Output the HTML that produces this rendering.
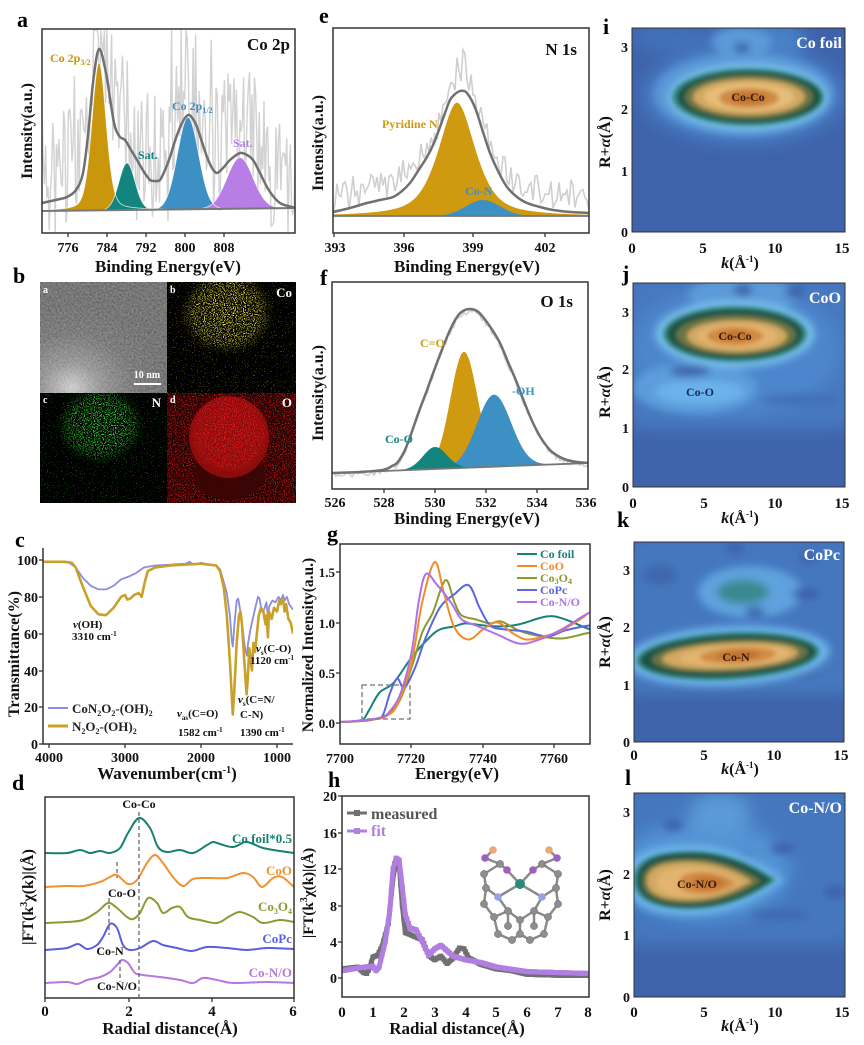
<!DOCTYPE html>
<html><head><meta charset="utf-8">
<style>
html,body{margin:0;padding:0;background:#fff;}
svg{display:block;font-family:"Liberation Serif",serif;font-weight:bold;}
</style></head>
<body>
<svg id="s" xmlns="http://www.w3.org/2000/svg" width="864" height="1045" viewBox="0 0 864 1045">
<defs>
<clipPath id="ca"><rect x="42" y="29" width="253" height="204"/></clipPath>
<clipPath id="ce"><rect x="333" y="28" width="256" height="205"/></clipPath>
<clipPath id="cf"><rect x="332" y="282" width="256" height="207"/></clipPath>
<clipPath id="cc"><rect x="43" y="545" width="250" height="199"/></clipPath>
<clipPath id="cd"><rect x="45" y="797" width="249" height="201"/></clipPath>
<clipPath id="cg"><rect x="340" y="544" width="250" height="200"/></clipPath>
<clipPath id="ch"><rect x="342" y="796" width="247" height="201"/></clipPath>
<clipPath id="ci"><rect x="632" y="28" width="213" height="204"/></clipPath>
<clipPath id="cj"><rect x="633" y="283" width="212" height="204"/></clipPath>
<clipPath id="ck"><rect x="634" y="542" width="210" height="200"/></clipPath>
<clipPath id="cl"><rect x="634" y="793" width="211" height="204"/></clipPath>
<clipPath id="b1"><rect x="40" y="282" width="127" height="111"/></clipPath>
<clipPath id="b2"><rect x="167" y="282" width="129" height="111"/></clipPath>
<clipPath id="b3"><rect x="40" y="393" width="127" height="110"/></clipPath>
<clipPath id="b4"><rect x="167" y="393" width="129" height="110"/></clipPath>
<filter id="bl2" x="-50%" y="-50%" width="200%" height="200%"><feGaussianBlur stdDeviation="2"/></filter>
<filter id="bl4" x="-50%" y="-50%" width="200%" height="200%"><feGaussianBlur stdDeviation="4"/></filter>
<filter id="bl8" x="-50%" y="-50%" width="200%" height="200%"><feGaussianBlur stdDeviation="8"/></filter>
<filter id="speckD" x="0" y="0" width="100%" height="100%">
 <feTurbulence type="fractalNoise" baseFrequency="0.9" numOctaves="1" seed="4" result="n"/>
 <feColorMatrix in="n" type="matrix" values="0 0 0 0 0 0 0 0 0 0 0 0 0 0 0 10 0 0 0 -5.2" result="m"/>
 <feComposite in="SourceGraphic" in2="m" operator="in"/>
</filter>
<filter id="speckS" x="0" y="0" width="100%" height="100%">
 <feTurbulence type="fractalNoise" baseFrequency="0.9" numOctaves="1" seed="11" result="n"/>
 <feColorMatrix in="n" type="matrix" values="0 0 0 0 0 0 0 0 0 0 0 0 0 0 0 14 0 0 0 -9.3" result="m"/>
 <feComposite in="SourceGraphic" in2="m" operator="in"/>
</filter>
<filter id="grain" x="0" y="0" width="100%" height="100%">
 <feTurbulence type="fractalNoise" baseFrequency="0.5" numOctaves="2" seed="7" result="n"/>
 <feColorMatrix in="n" type="matrix" values="1 0 0 0 0 1 0 0 0 0 1 0 0 0 0 0 0 0 0 0.25" result="g"/>
 <feComposite in="g" in2="SourceGraphic" operator="atop"/>
</filter>
<radialGradient id="tem" cx="0.25" cy="0.95" r="0.75"><stop offset="0" stop-color="#d4d4d4"/><stop offset="0.3" stop-color="#8e8e8e"/><stop offset="0.65" stop-color="#5e5e5e"/><stop offset="1" stop-color="#505050"/></radialGradient>
<radialGradient id="yel" cx="0.5" cy="0.5" r="0.5"><stop offset="0" stop-color="#f0e840"/><stop offset="0.7" stop-color="#d8d030" stop-opacity="0.9"/><stop offset="1" stop-color="#a0a020" stop-opacity="0"/></radialGradient>
<radialGradient id="grn" cx="0.5" cy="0.5" r="0.5"><stop offset="0" stop-color="#40e040"/><stop offset="0.7" stop-color="#30c030" stop-opacity="0.9"/><stop offset="1" stop-color="#20a020" stop-opacity="0"/></radialGradient>
<radialGradient id="red" cx="0.5" cy="0.45" r="0.5"><stop offset="0" stop-color="#ee2020"/><stop offset="0.85" stop-color="#d81818"/><stop offset="1" stop-color="#a01010" stop-opacity="0.3"/></radialGradient>
<path id="tear" d="M-63,0 C-63,-25 -30,-28 0,-27 C30,-25 55,-12 72,0 C55,12 30,25 0,27 C-35,29 -63,22 -63,0 Z"/>
</defs>

<!-- ============ PANEL A ============ -->
<g id="pa" clip-path="url(#ca)"></g>
<rect x="42" y="29" width="253" height="204" fill="none" stroke="#333" stroke-width="1.5"/>
<g stroke="#333" stroke-width="1.3"><line x1="68" y1="233" x2="68" y2="237"/><line x1="107" y1="233" x2="107" y2="237"/><line x1="146" y1="233" x2="146" y2="237"/><line x1="185" y1="233" x2="185" y2="237"/><line x1="224" y1="233" x2="224" y2="237"/></g>
<text x="17" y="27" font-size="22">a</text>
<text x="290" y="50" font-size="17" text-anchor="end" fill="#111">Co 2p</text>
<text x="50" y="62" font-size="12" fill="#c9960c">Co 2p<tspan font-size="8" dy="3">3/2</tspan></text>
<text x="138" y="159" font-size="12" fill="#13857e">Sat.</text>
<text x="172" y="110" font-size="12" fill="#3d90c4">Co 2p<tspan font-size="8" dy="3">1/2</tspan></text>
<text x="233" y="147" font-size="12" fill="#b77ee6">Sat.</text>
<g font-size="14" text-anchor="middle" fill="#111"><text x="68" y="252">776</text><text x="107" y="252">784</text><text x="146" y="252">792</text><text x="185" y="252">800</text><text x="224" y="252">808</text></g>
<text x="168" y="272" font-size="17" text-anchor="middle" fill="#111">Binding Energy(eV)</text>
<text transform="translate(32,131) rotate(-90)" font-size="16" text-anchor="middle" fill="#111">Intensity(a.u.)</text>

<!-- ============ PANEL E ============ -->
<g id="pe" clip-path="url(#ce)"></g>
<rect x="333" y="28" width="256" height="205" fill="none" stroke="#333" stroke-width="1.5"/>
<g stroke="#333" stroke-width="1.3"><line x1="334" y1="233" x2="334" y2="237"/><line x1="404" y1="233" x2="404" y2="237"/><line x1="473" y1="233" x2="473" y2="237"/><line x1="545" y1="233" x2="545" y2="237"/></g>
<text x="319" y="23" font-size="22">e</text>
<text x="577" y="55" font-size="17" text-anchor="end" fill="#111">N 1s</text>
<text x="382" y="128" font-size="12" fill="#cf9a10">Pyridine N</text>
<text x="465" y="195" font-size="12" fill="#3d90c4">Co-N</text>
<g font-size="14" text-anchor="middle" fill="#111"><text x="335" y="252">393</text><text x="404" y="252">396</text><text x="473" y="252">399</text><text x="545" y="252">402</text></g>
<text x="467" y="272" font-size="17" text-anchor="middle" fill="#111">Binding Energy(eV)</text>
<text transform="translate(323,143) rotate(-90)" font-size="16" text-anchor="middle" fill="#111">Intensity(a.u.)</text>

<!-- ============ PANEL F ============ -->
<g id="pf" clip-path="url(#cf)"></g>
<rect x="332" y="282" width="256" height="207" fill="none" stroke="#333" stroke-width="1.5"/>
<g stroke="#333" stroke-width="1.3"><line x1="384" y1="489" x2="384" y2="493"/><line x1="435" y1="489" x2="435" y2="493"/><line x1="486" y1="489" x2="486" y2="493"/><line x1="537" y1="489" x2="537" y2="493"/></g>
<text x="320" y="285" font-size="22">f</text>
<text x="573" y="307" font-size="17" text-anchor="end" fill="#111">O 1s</text>
<text x="420" y="347" font-size="12" fill="#cf9a10">C=O</text>
<text x="512" y="395" font-size="12" fill="#3d90c4">-OH</text>
<text x="385" y="443" font-size="12" fill="#13857e">Co-O</text>
<g font-size="14" text-anchor="middle" fill="#111"><text x="335" y="507">526</text><text x="384" y="507">528</text><text x="435" y="507">530</text><text x="486" y="507">532</text><text x="537" y="507">534</text><text x="586" y="507">536</text></g>
<text x="467" y="524" font-size="17" text-anchor="middle" fill="#111">Binding Energy(eV)</text>
<text transform="translate(323,393) rotate(-90)" font-size="16" text-anchor="middle" fill="#111">Intensity(a.u.)</text>

<!-- ============ PANEL B ============ -->
<text x="13" y="283" font-size="22">b</text>
<g clip-path="url(#b1)">
 <rect x="40" y="282" width="127" height="111" fill="url(#tem)"/>
 <rect x="40" y="282" width="127" height="111" fill="url(#tem)" filter="url(#grain)"/>
</g>
<g clip-path="url(#b2)">
 <rect x="167" y="282" width="129" height="111" fill="#000"/>
 <rect x="167" y="282" width="129" height="111" fill="#8a8a1c" filter="url(#speckS)"/>
 <ellipse cx="227" cy="313" rx="48" ry="42" fill="url(#yel)" filter="url(#speckD)"/>
</g>
<g clip-path="url(#b3)">
 <rect x="40" y="393" width="127" height="110" fill="#000"/>
 <rect x="40" y="393" width="127" height="110" fill="#1e8a1e" filter="url(#speckS)"/>
 <ellipse cx="100" cy="425" rx="44" ry="40" fill="url(#grn)" filter="url(#speckD)"/>
</g>
<g clip-path="url(#b4)">
 <rect x="167" y="393" width="129" height="110" fill="#200202"/>
 <rect x="167" y="393" width="129" height="110" fill="#b01212" filter="url(#speckD)"/>
 <ellipse cx="229" cy="474" rx="36" ry="26" fill="#3a0505" opacity="0.85"/>
 <ellipse cx="229" cy="437" rx="40" ry="41" fill="#8a0c0c"/>
 <ellipse cx="229" cy="437" rx="40" ry="41" fill="url(#red)" filter="url(#speckD)"/>
</g>
<g font-size="10" fill="#fff"><text x="43" y="293">a</text><text x="170" y="293">b</text><text x="43" y="403">c</text><text x="170" y="403">d</text></g>
<g font-size="13" fill="#fff" text-anchor="end"><text x="292" y="297">Co</text><text x="161" y="407">N</text><text x="292" y="407">O</text></g>
<text x="147" y="378" font-size="10" fill="#fff" text-anchor="middle">10 nm</text>
<rect x="134" y="383" width="27" height="2" fill="#fff"/>

<!-- ============ PANEL C ============ -->
<g id="pc" clip-path="url(#cc)"></g>
<g stroke="#333" stroke-width="1.5" fill="none"><path d="M43,548 L43,744 L293,744"/></g>
<g stroke="#333" stroke-width="1.3"><line x1="39" y1="560" x2="43" y2="560"/><line x1="39" y1="597" x2="43" y2="597"/><line x1="39" y1="634" x2="43" y2="634"/><line x1="39" y1="671" x2="43" y2="671"/><line x1="39" y1="707" x2="43" y2="707"/><line x1="39" y1="744" x2="43" y2="744"/>
<line x1="49" y1="744" x2="49" y2="748"/><line x1="125" y1="744" x2="125" y2="748"/><line x1="201" y1="744" x2="201" y2="748"/><line x1="277" y1="744" x2="277" y2="748"/></g>
<text x="15" y="547" font-size="22">c</text>
<g font-size="14" text-anchor="end" fill="#111"><text x="38" y="565">100</text><text x="38" y="602">80</text><text x="38" y="639">60</text><text x="38" y="676">40</text><text x="38" y="712">20</text><text x="38" y="749">0</text></g>
<g font-size="14" text-anchor="middle" fill="#111"><text x="49" y="762">4000</text><text x="125" y="762">3000</text><text x="201" y="762">2000</text><text x="277" y="762">1000</text></g>
<text x="167" y="779" font-size="17" text-anchor="middle" fill="#111">Wavenumber(cm<tspan font-size="10" dy="-6">-1</tspan><tspan dy="6">)</tspan></text>
<text transform="translate(19,654) rotate(-90)" font-size="16" text-anchor="middle" fill="#111">Transmittance(%)</text>
<g font-size="11" fill="#111">
 <text x="73" y="628"><tspan font-style="italic">v</tspan>(OH)</text>
 <text x="72" y="640">3310 cm<tspan font-size="7" dy="-4">-1</tspan></text>
 <text x="177" y="717"><tspan font-style="italic">v</tspan><tspan font-size="7" dy="3">as</tspan><tspan dy="-3">(C=O)</tspan></text>
 <text x="178" y="736">1582 cm<tspan font-size="7" dy="-4">-1</tspan></text>
 <text x="238" y="703"><tspan font-style="italic">v</tspan><tspan font-size="7" dy="3">s</tspan><tspan dy="-3">(C=N/</tspan></text>
 <text x="240" y="718">C-N)</text>
 <text x="240" y="736">1390 cm<tspan font-size="7" dy="-4">-1</tspan></text>
 <text x="256" y="652"><tspan font-style="italic">v</tspan><tspan font-size="7" dy="3">s</tspan><tspan dy="-3">(C-O)</tspan></text>
 <text x="250" y="664">1120 cm<tspan font-size="7" dy="-4">-1</tspan></text>
</g>
<line x1="48" y1="708" x2="68" y2="708" stroke="#8c8ce0" stroke-width="2"/>
<line x1="48" y1="726" x2="68" y2="726" stroke="#c9a12a" stroke-width="3"/>
<g font-size="13" fill="#222">
 <text x="72" y="713">CoN<tspan font-size="8" dy="3">2</tspan><tspan dy="-3">O</tspan><tspan font-size="8" dy="3">2</tspan><tspan dy="-3">-(OH)</tspan><tspan font-size="8" dy="3">2</tspan></text>
 <text x="72" y="731">N<tspan font-size="8" dy="3">2</tspan><tspan dy="-3">O</tspan><tspan font-size="8" dy="3">2</tspan><tspan dy="-3">-(OH)</tspan><tspan font-size="8" dy="3">2</tspan></text>
</g>

<!-- ============ PANEL D ============ -->
<g id="pd" clip-path="url(#cd)"></g>
<rect x="45" y="797" width="249" height="201" fill="none" stroke="#333" stroke-width="1.5"/>
<g stroke="#333" stroke-width="1.3"><line x1="129" y1="998" x2="129" y2="1002"/><line x1="212" y1="998" x2="212" y2="1002"/><line x1="45" y1="998" x2="45" y2="1002"/><line x1="294" y1="998" x2="294" y2="1002"/></g>
<g stroke="#666" stroke-width="1.3" stroke-dasharray="4,3"><line x1="139" y1="812" x2="139" y2="998"/><line x1="117" y1="862" x2="117" y2="878"/><line x1="109" y1="898" x2="109" y2="935"/><line x1="120" y1="960" x2="120" y2="982"/></g>
<text x="12" y="790" font-size="22">d</text>
<g font-size="12" fill="#111" text-anchor="middle"><text x="139" y="808">Co-Co</text><text x="122" y="897">Co-O</text><text x="110" y="955">Co-N</text><text x="117" y="990">Co-N/O</text></g>
<g font-size="13" text-anchor="end">
 <text x="292" y="843" fill="#18806f">Co foil*0.5</text>
 <text x="292" y="875" fill="#f0922e">CoO</text>
 <text x="292" y="911" fill="#8c9a32">Co<tspan font-size="8" dy="3">3</tspan><tspan dy="-3">O</tspan><tspan font-size="8" dy="3">4</tspan></text>
 <text x="292" y="943" fill="#5a5ee0">CoPc</text>
 <text x="292" y="977" fill="#b876e0">Co-N/O</text>
</g>
<g font-size="15" text-anchor="middle" fill="#111"><text x="45" y="1016">0</text><text x="129" y="1016">2</text><text x="212" y="1016">4</text><text x="293" y="1016">6</text></g>
<text x="170" y="1034" font-size="17" text-anchor="middle" fill="#111">Radial distance(Å)</text>
<text transform="translate(33,897) rotate(-90)" font-size="16" text-anchor="middle" fill="#111">|FT(k<tspan font-size="10" dy="-6">3</tspan><tspan dy="6">χ(k)|(Å)</tspan></text>

<!-- ============ PANEL G ============ -->
<g id="pg" clip-path="url(#cg)"></g>
<rect x="340" y="544" width="250" height="200" fill="none" stroke="#333" stroke-width="1.5"/>
<g stroke="#333" stroke-width="1.3"><line x1="336" y1="723" x2="340" y2="723"/><line x1="336" y1="673" x2="340" y2="673"/><line x1="336" y1="623" x2="340" y2="623"/><line x1="336" y1="572" x2="340" y2="572"/>
<line x1="411" y1="744" x2="411" y2="748"/><line x1="483" y1="744" x2="483" y2="748"/><line x1="554" y1="744" x2="554" y2="748"/></g>
<rect x="362" y="685" width="48" height="34" fill="none" stroke="#888" stroke-width="1.5" stroke-dasharray="5,3"/>
<text x="327" y="541" font-size="22">g</text>
<g font-size="13" text-anchor="end" fill="#111"><text x="335" y="728">0.0</text><text x="335" y="678">0.5</text><text x="335" y="628">1.0</text><text x="335" y="577">1.5</text></g>
<g font-size="14" text-anchor="middle" fill="#111"><text x="340" y="763">7700</text><text x="411" y="763">7720</text><text x="483" y="763">7740</text><text x="554" y="763">7760</text></g>
<text x="457" y="779" font-size="17" text-anchor="middle" fill="#111">Energy(eV)</text>
<text transform="translate(313,645) rotate(-90)" font-size="15.5" text-anchor="middle" fill="#111">Normalized Intensity(a.u.)</text>
<g stroke-width="2">
 <line x1="517" y1="554" x2="537" y2="554" stroke="#19807a"/>
 <line x1="517" y1="566" x2="537" y2="566" stroke="#f28c28"/>
 <line x1="517" y1="578" x2="537" y2="578" stroke="#8a9b2c"/>
 <line x1="517" y1="590" x2="537" y2="590" stroke="#5a68e0"/>
 <line x1="517" y1="602" x2="537" y2="602" stroke="#b070e8"/>
</g>
<g font-size="12">
 <text x="540" y="558" fill="#19807a">Co foil</text>
 <text x="540" y="570" fill="#f28c28">CoO</text>
 <text x="540" y="582" fill="#8a9b2c">Co<tspan font-size="8" dy="2">3</tspan><tspan dy="-2">O</tspan><tspan font-size="8" dy="2">4</tspan></text>
 <text x="540" y="594" fill="#5a68e0">CoPc</text>
 <text x="540" y="606" fill="#b070e8">Co-N/O</text>
</g>

<!-- ============ PANEL H ============ -->
<g id="ph" clip-path="url(#ch)"></g>
<rect x="342" y="796" width="247" height="201" fill="none" stroke="#333" stroke-width="1.5"/>
<g stroke="#333" stroke-width="1.3"><line x1="338" y1="796" x2="342" y2="796"/><line x1="338" y1="833" x2="342" y2="833"/><line x1="338" y1="869" x2="342" y2="869"/><line x1="338" y1="906" x2="342" y2="906"/><line x1="338" y1="942" x2="342" y2="942"/><line x1="338" y1="978" x2="342" y2="978"/></g>
<text x="328" y="787" font-size="22">h</text>
<g font-size="14" text-anchor="end" fill="#111"><text x="337" y="801">20</text><text x="337" y="838">16</text><text x="337" y="874">12</text><text x="337" y="911">8</text><text x="337" y="947">4</text><text x="337" y="983">0</text></g>
<g font-size="15" text-anchor="middle" fill="#111"><text x="342" y="1017">0</text><text x="373" y="1017">1</text><text x="404" y="1017">2</text><text x="435" y="1017">3</text><text x="466" y="1017">4</text><text x="496" y="1017">5</text><text x="527" y="1017">6</text><text x="558" y="1017">7</text><text x="588" y="1017">8</text></g>
<text x="457" y="1034" font-size="17" text-anchor="middle" fill="#111">Radial distance(Å)</text>
<text transform="translate(313,893) rotate(-90)" font-size="15" text-anchor="middle" fill="#111">|FT(k<tspan font-size="10" dy="-6">3</tspan><tspan dy="6">χ(k)|(Å)</tspan></text>
<line x1="347" y1="813" x2="367" y2="813" stroke="#707070" stroke-width="3"/><rect x="354" y="810" width="6" height="6" fill="#707070"/>
<line x1="347" y1="831" x2="367" y2="831" stroke="#b07fe0" stroke-width="3"/><rect x="354" y="828" width="6" height="6" fill="#b07fe0"/>
<text x="371" y="819" font-size="16" fill="#555">measured</text>
<text x="371" y="836" font-size="16" fill="#b07fe0">fit</text>
<g id="mol"></g>

<!-- ============ PANEL I ============ -->
<g clip-path="url(#ci)">
 <rect x="632" y="28" width="213" height="204" fill="#3e63ab"/>
 <g filter="url(#bl8)">
  <ellipse cx="744" cy="95" rx="102" ry="50" fill="#467ac2"/>
  <ellipse cx="758" cy="40" rx="48" ry="22" fill="#4a80c6"/>
  <ellipse cx="670" cy="38" rx="38" ry="16" fill="#4370ba"/>
 </g>
 <g filter="url(#bl4)">
  <ellipse cx="744" cy="94" rx="90" ry="42" fill="#5a98d8"/>
  <ellipse cx="742" cy="42" rx="30" ry="14" fill="#5b9ad8"/>
  <ellipse cx="742" cy="48" rx="8" ry="5" fill="#3b62a8"/>
  <ellipse cx="748" cy="97" rx="80" ry="34" fill="#76bdea"/>
 </g>
 <g filter="url(#bl2)">
  <ellipse cx="748" cy="97" rx="76" ry="29" fill="#3a8a88"/>
  <ellipse cx="749" cy="97" rx="72" ry="26" fill="#1f5245"/>
  <ellipse cx="749" cy="97" rx="64" ry="22" fill="#6a7545"/>
  <ellipse cx="749" cy="97" rx="56" ry="18" fill="#d2a862"/>
  <ellipse cx="749" cy="97" rx="45" ry="14" fill="#e6bd78"/>
  <ellipse cx="749" cy="98" rx="30" ry="10" fill="#d08a42"/>
  <ellipse cx="749" cy="98" rx="18" ry="6" fill="#c27530"/>
 </g>
</g>
<rect x="632" y="28" width="213" height="204" fill="none" stroke="#333" stroke-width="1"/>
<text x="748" y="101" font-size="12" text-anchor="middle" fill="#3a1a08">Co-Co</text>
<text x="842" y="48" font-size="16" text-anchor="end" fill="#fff">Co foil</text>
<text x="603" y="34" font-size="22">i</text>
<g font-size="14" text-anchor="end" fill="#111"><text x="628" y="237">0</text><text x="628" y="176">1</text><text x="628" y="114">2</text><text x="628" y="52">3</text></g>
<g font-size="15" text-anchor="middle" fill="#111"><text x="632" y="253">0</text><text x="703" y="253">5</text><text x="775" y="253">10</text><text x="842" y="253">15</text></g>
<text x="740" y="268" font-size="16" text-anchor="middle" fill="#111"><tspan font-style="italic">k</tspan>(Å<tspan font-size="9" dy="-6">-1</tspan><tspan dy="6">)</tspan></text>
<text transform="translate(610,142) rotate(-90)" font-size="16" text-anchor="middle" fill="#111">R+<tspan font-style="italic">α</tspan>(Å)</text>

<!-- ============ PANEL J ============ -->
<g clip-path="url(#cj)">
 <rect x="633" y="283" width="212" height="204" fill="#3e63ab"/>
 <g filter="url(#bl8)">
  <rect x="625" y="275" width="230" height="155" rx="20" fill="#4678c0"/>
  <ellipse cx="735" cy="350" rx="105" ry="65" fill="#4d86cc"/>
 </g>
 <g filter="url(#bl4)">
  <ellipse cx="695" cy="388" rx="62" ry="26" fill="#5c9cdc"/>
  <ellipse cx="700" cy="392" rx="45" ry="12" fill="#6cb2ea"/>
  <ellipse cx="690" cy="371" rx="20" ry="6" fill="#3d66ac"/>
  <ellipse cx="743" cy="295" rx="55" ry="18" fill="#5c9ad8"/>
  <ellipse cx="743" cy="290" rx="9" ry="6" fill="#3d64aa"/>
  <ellipse cx="795" cy="292" rx="10" ry="6" fill="#3d64aa"/>
  <ellipse cx="800" cy="400" rx="40" ry="6" fill="#4270b6"/>
  <ellipse cx="735" cy="334" rx="80" ry="34" fill="#74bcea"/>
 </g>
 <g filter="url(#bl2)">
  <ellipse cx="735" cy="334" rx="72" ry="28" fill="#3a8a88"/>
  <ellipse cx="735" cy="334" rx="68" ry="25" fill="#1f5245"/>
  <ellipse cx="736" cy="335" rx="60" ry="20" fill="#6a7545"/>
  <ellipse cx="737" cy="336" rx="50" ry="16" fill="#d2a862"/>
  <ellipse cx="737" cy="336" rx="40" ry="12" fill="#e2b470"/>
  <ellipse cx="735" cy="336" rx="28" ry="9" fill="#d08a42"/>
  <ellipse cx="735" cy="336" rx="16" ry="5" fill="#c27530"/>
 </g>
</g>
<rect x="633" y="283" width="212" height="204" fill="none" stroke="#333" stroke-width="1"/>
<text x="735" y="340" font-size="12" text-anchor="middle" fill="#3a1a08">Co-Co</text>
<text x="700" y="396" font-size="12" text-anchor="middle" fill="#1a2a60">Co-O</text>
<text x="841" y="303" font-size="16" text-anchor="end" fill="#fff">CoO</text>
<text x="622" y="281" font-size="22">j</text>
<g font-size="14" text-anchor="end" fill="#111"><text x="629" y="492">0</text><text x="629" y="433">1</text><text x="629" y="374">2</text><text x="629" y="317">3</text></g>
<g font-size="15" text-anchor="middle" fill="#111"><text x="633" y="508">0</text><text x="704" y="508">5</text><text x="775" y="508">10</text><text x="842" y="508">15</text></g>
<text x="740" y="523" font-size="16" text-anchor="middle" fill="#111"><tspan font-style="italic">k</tspan>(Å<tspan font-size="9" dy="-6">-1</tspan><tspan dy="6">)</tspan></text>
<text transform="translate(610,392) rotate(-90)" font-size="16" text-anchor="middle" fill="#111">R+<tspan font-style="italic">α</tspan>(Å)</text>

<!-- ============ PANEL K ============ -->
<g clip-path="url(#ck)">
 <rect x="634" y="542" width="210" height="200" fill="#3e63ab"/>
 <g filter="url(#bl8)">
  <rect x="625" y="535" width="230" height="155" rx="10" fill="#4577bf"/>
  <rect x="630" y="684" width="220" height="8" fill="#4a80c6"/>
 </g>
 <g filter="url(#bl4)">
  <ellipse cx="750" cy="592" rx="52" ry="26" fill="#5ea2de"/>
  <ellipse cx="743" cy="592" rx="26" ry="12" fill="#3a8a90"/>
  <ellipse cx="755" cy="612" rx="10" ry="5" fill="#3d64aa"/>
  <ellipse cx="806" cy="594" rx="14" ry="6" fill="#3d64aa"/>
  <ellipse cx="735" cy="548" rx="9" ry="6" fill="#3d64aa"/>
  <ellipse cx="808" cy="558" rx="9" ry="6" fill="#3d64aa"/>
  <ellipse cx="660" cy="575" rx="18" ry="10" fill="#3f68ae"/>
  <ellipse cx="790" cy="674" rx="30" ry="4" fill="#3f68ae"/>
  <ellipse cx="728" cy="656" rx="102" ry="30" fill="#6cb4ea" transform="rotate(-3 728 656)"/>
 </g>
 <g filter="url(#bl2)" transform="rotate(-3 728 656)">
  <ellipse cx="728" cy="656" rx="92" ry="24" fill="#3a8a88"/>
  <ellipse cx="728" cy="656" rx="88" ry="21" fill="#1f5245"/>
  <ellipse cx="730" cy="656" rx="78" ry="16" fill="#6a7545"/>
  <ellipse cx="730" cy="656" rx="68" ry="13" fill="#d2a862"/>
  <ellipse cx="735" cy="656" rx="55" ry="10" fill="#e2b470"/>
  <ellipse cx="738" cy="656" rx="38" ry="8" fill="#d08a42"/>
  <ellipse cx="738" cy="656" rx="22" ry="5" fill="#c27530"/>
 </g>
</g>
<rect x="634" y="542" width="210" height="200" fill="none" stroke="#333" stroke-width="1"/>
<text x="736" y="661" font-size="12" text-anchor="middle" fill="#3a1a08">Co-N</text>
<text x="840" y="560" font-size="16" text-anchor="end" fill="#fff">CoPc</text>
<text x="617" y="527" font-size="22">k</text>
<g font-size="14" text-anchor="end" fill="#111"><text x="630" y="747">0</text><text x="630" y="690">1</text><text x="630" y="632">2</text><text x="630" y="575">3</text></g>
<g font-size="15" text-anchor="middle" fill="#111"><text x="634" y="760">0</text><text x="704" y="760">5</text><text x="774" y="760">10</text><text x="841" y="760">15</text></g>
<text x="740" y="774" font-size="16" text-anchor="middle" fill="#111"><tspan font-style="italic">k</tspan>(Å<tspan font-size="9" dy="-6">-1</tspan><tspan dy="6">)</tspan></text>
<text transform="translate(610,642) rotate(-90)" font-size="16" text-anchor="middle" fill="#111">R+<tspan font-style="italic">α</tspan>(Å)</text>

<!-- ============ PANEL L ============ -->
<g clip-path="url(#cl)">
 <rect x="634" y="793" width="211" height="204" fill="#3e63ab"/>
 <g filter="url(#bl8)">
  <rect x="625" y="785" width="230" height="160" rx="10" fill="#4577bf"/>
  <ellipse cx="705" cy="870" rx="85" ry="50" fill="#5392d4"/>
  <ellipse cx="720" cy="815" rx="30" ry="22" fill="#5a9ad8"/>
 </g>
 <g filter="url(#bl4)">
  <ellipse cx="673" cy="825" rx="10" ry="6" fill="#3d64aa"/>
  <ellipse cx="742" cy="858" rx="10" ry="5" fill="#3d64aa"/>
  <ellipse cx="783" cy="848" rx="12" ry="6" fill="#3d64aa"/>
  <ellipse cx="835" cy="892" rx="12" ry="6" fill="#3d64aa"/>
  <ellipse cx="780" cy="915" rx="30" ry="5" fill="#3f68ae"/>
  <use href="#tear" transform="translate(700,880) scale(1.18,1.3)" fill="#6cb4ea"/>
 </g>
 <g filter="url(#bl2)">
  <use href="#tear" transform="translate(700,880) scale(1.06,1.06)" fill="#3a8a88"/>
  <use href="#tear" transform="translate(700,880) scale(1,1)" fill="#1f5245"/>
  <use href="#tear" transform="translate(698,881) scale(0.88,0.82)" fill="#6a7545"/>
  <use href="#tear" transform="translate(696,881) scale(0.78,0.7)" fill="#d2a862"/>
  <use href="#tear" transform="translate(696,882) scale(0.62,0.55)" fill="#e2b470"/>
  <use href="#tear" transform="translate(706,883) scale(0.42,0.4)" fill="#d08a42"/>
  <use href="#tear" transform="translate(708,883) scale(0.25,0.22)" fill="#c27530"/>
 </g>
</g>
<rect x="634" y="793" width="211" height="204" fill="none" stroke="#333" stroke-width="1"/>
<text x="697" y="888" font-size="12" text-anchor="middle" fill="#3a1a08">Co-N/O</text>
<text x="842" y="813" font-size="16" text-anchor="end" fill="#fff">Co-N/O</text>
<text x="625" y="785" font-size="22">l</text>
<g font-size="14" text-anchor="end" fill="#111"><text x="630" y="1002">0</text><text x="630" y="940">1</text><text x="630" y="879">2</text><text x="630" y="817">3</text></g>
<g font-size="15" text-anchor="middle" fill="#111"><text x="634" y="1017">0</text><text x="704" y="1017">5</text><text x="775" y="1017">10</text><text x="842" y="1017">15</text></g>
<text x="740" y="1031" font-size="16" text-anchor="middle" fill="#111"><tspan font-style="italic">k</tspan>(Å<tspan font-size="9" dy="-6">-1</tspan><tspan dy="6">)</tspan></text>
<text transform="translate(610,895) rotate(-90)" font-size="16" text-anchor="middle" fill="#111">R+<tspan font-style="italic">α</tspan>(Å)</text>
</svg>

<script>
(function(){
const NS='http://www.w3.org/2000/svg';
function el(p,tag,a){const e=document.createElementNS(NS,tag);for(const k in a)e.setAttribute(k,a[k]);p.appendChild(e);return e;}
function f1(v){return v.toFixed(1);}
function smooth(p){let d='M'+f1(p[0][0])+','+f1(p[0][1]);for(let i=0;i<p.length-1;i++){const p0=p[Math.max(i-1,0)],a=p[i],b=p[i+1],p3=p[Math.min(i+2,p.length-1)];const c1=[a[0]+(b[0]-p0[0])/6,a[1]+(b[1]-p0[1])/6];const c2=[b[0]-(p3[0]-a[0])/6,b[1]-(p3[1]-a[1])/6];d+=' C'+f1(c1[0])+','+f1(c1[1])+' '+f1(c2[0])+','+f1(c2[1])+' '+f1(b[0])+','+f1(b[1]);}return d;}
function poly(p){return 'M'+p.map(q=>f1(q[0])+','+f1(q[1])).join(' L');}
function interp(p,x){for(let i=0;i<p.length-1;i++){if(x>=p[i][0]&&x<=p[i+1][0]){const t=(x-p[i][0])/(p[i+1][0]-p[i][0]);return p[i][1]+t*(p[i+1][1]-p[i][1]);}}return x<p[0][0]?p[0][1]:p[p.length-1][1];}
let seed=12345;function rnd(){seed=(seed*16807)%2147483647;return (seed-1)/2147483646;}
const G=(x,c,s)=>Math.exp(-0.5*((x-c)/s)*((x-c)/s));
const L=(x,c,w)=>1/(1+((x-c)/w)*((x-c)/w));
function peak(x0,x1,base,f){let top=[],xs=[];for(let x=x0;x<=x1+0.01;x+=1){if(f(x)>0.4)xs.push(x);}if(!xs.length)return '';const a=xs[0],b=xs[xs.length-1];for(let x=a;x<=b+0.01;x+=1)top.push([x,base(x)-f(x)]);let d=poly(top);for(let x=b;x>=a-0.01;x-=1)d+=' L'+f1(x)+','+f1(base(x));return d+'Z';}
function topline(x0,x1,base,f){let t=[];for(let x=x0;x<=x1;x+=1){if(f(x)>0.6)t.push([x,base(x)-f(x)]);}return t.length?poly(t):'';}

/* ---- panel a ---- */
const pa=document.getElementById('pa');
const envA=[[42,203],[60,199],[67,197],[76,190],[83,173],[88,135],[93,83],[99,49],[106,73],[111,105],[115,127],[120,137],[125,140],[131,150],[137,160],[144,172],[150,180],[155,181],[160,180],[165,170],[170,157],[176,138],[182,123],[188,115],[193,119],[197,127],[202,142],[207,157],[212,168],[217,173],[223,168],[230,160],[240,153],[247,155],[253,160],[260,173],[267,187],[273,196],[280,203],[288,206],[296,208]];
let nz=[];seed=777;
for(let x=42;x<=296;x+=1.2){let b=interp(envA,x);let y=b-25+(rnd()-0.5)*130;if(rnd()<0.12)y-=70*rnd();if(rnd()<0.08)y+=60*rnd();y=Math.max(30,Math.min(233,y));nz.push([x,y]);}
el(pa,'path',{d:poly(nz),fill:'none',stroke:'#d2d2d2','stroke-width':1.4});
const baseA=x=>211-(x-43)*3/251;
const pk=[[x=>148*(0.75*G(x,99,7)+0.25*L(x,99,9)),'#c9960c'],[x=>47*G(x,127,8),'#13857e'],[x=>92*G(x,188,10.5),'#3d90c4'],[x=>51*G(x,240,13),'#b77ee6']];
pk.forEach(p=>{el(pa,'path',{d:peak(42,296,baseA,p[0]),fill:p[1]});});
pk.forEach(p=>{el(pa,'path',{d:topline(42,296,baseA,p[0]),fill:'none',stroke:'#fff','stroke-width':0.8,opacity:0.8});});
el(pa,'path',{d:'M42,211 L296,208',stroke:'#777','stroke-width':2,fill:'none'});
el(pa,'path',{d:smooth(envA),fill:'none',stroke:'#707070','stroke-width':2.5});

/* ---- panel e ---- */
const pe=document.getElementById('pe');
const envE=[[333,212],[350,208],[367,203],[380,200],[393,197],[402,191],[410,183],[418,171],[427,157],[434,143],[440,127],[445,113],[450,100],[455,94],[460,91],[464,91],[467,93],[472,101],[477,113],[483,132],[490,153],[498,171],[507,187],[517,197],[527,203],[540,207],[553,210],[570,212],[590,213]];
nz=[];seed=4242;
for(let x=333;x<=590;x+=2){let b=interp(envE,x);let amp=(x<430||x>500)?1:0.6;let y=b-rnd()*30*amp+(rnd()-0.5)*8;if(x>450&&x<475&&rnd()<0.3)y-=rnd()*35;nz.push([x,Math.min(224,y)]);}
el(pe,'path',{d:poly(nz),fill:'none',stroke:'#cfcfcf','stroke-width':1.6});
const baseE=x=>216;
const gE=x=>114*(0.6*L(x,457,22)+0.4*G(x,457,19));
const bE=x=>16*G(x,483,17);
el(pe,'path',{d:peak(333,590,baseE,gE),fill:'#cf9a10'});
el(pe,'path',{d:topline(333,590,baseE,gE),fill:'none',stroke:'#fff','stroke-width':1.2});
el(pe,'path',{d:peak(333,590,baseE,bE),fill:'#3d90c4'});
el(pe,'path',{d:'M333,216 L590,216',stroke:'#777','stroke-width':1.8});
el(pe,'path',{d:smooth(envE),fill:'none',stroke:'#707070','stroke-width':2.5});

/* ---- panel f ---- */
const pf=document.getElementById('pf');
const envF=[[332,473],[360,472],[383,470],[392,466],[397,463],[404,452],[410,437],[418,414],[427,390],[435,368],[443,347],[450,330],[457,317],[463,311],[470,309],[477,311],[483,317],[491,328],[500,343],[508,362],[517,383],[525,404],[533,423],[541,438],[550,450],[558,456],[567,460],[577,462],[589,463]];
nz=[];seed=99;
for(let x=332;x<=589;x+=2){nz.push([x,interp(envF,x)+(rnd()-0.5)*5+2]);}
el(pf,'path',{d:poly(nz),fill:'none',stroke:'#cfcfcf','stroke-width':1.6});
const baseF=x=>473-(x-332)*10/256;
const gF=x=>116*G(x,464,13.5), bF=x=>72*G(x,494,17), tF=x=>22*G(x,435,12);
el(pf,'path',{d:peak(332,589,baseF,gF),fill:'#cf9a10'});
el(pf,'path',{d:peak(332,589,baseF,bF),fill:'#3d90c4'});
el(pf,'path',{d:peak(332,589,baseF,tF),fill:'#13857e'});
el(pf,'path',{d:'M332,473 L589,463',stroke:'#777','stroke-width':1.8});
el(pf,'path',{d:smooth(envF),fill:'none',stroke:'#707070','stroke-width':2.5});

/* ---- panel c ---- */
const pc=document.getElementById('pc');
const cx=w=>49+(4000-w)*0.076, cy=t=>744-t*1.84;
const gold=[[4079,99],[3800,99],[3700,98.5],[3650,96],[3550,85],[3450,75],[3350,70.5],[3250,70],[3150,74],[3050,80],[3000,81],[2970,78.5],[2930,79],[2880,81],[2820,82],[2780,80],[2740,88],[2700,94],[2600,96],[2400,97],[2200,97.5],[2000,98],[1900,97.5],[1800,97],[1750,94],[1700,85],[1660,70],[1620,45],[1582,16],[1560,30],[1530,55],[1500,70],[1480,72],[1460,65],[1430,45],[1400,27],[1385,35],[1365,52],[1345,45],[1330,40],[1310,55],[1290,50],[1270,58],[1240,70],[1210,74],[1180,72],[1150,65],[1135,70],[1120,58],[1105,72],[1070,68],[1040,74],[1000,72],[970,78],[950,76],[920,79],[900,72],[880,76],[850,68],[820,66],[789,60]];
const purp=[[4079,99],[3750,99],[3650,96],[3550,90],[3450,86],[3350,84],[3250,84],[3150,86],[3050,89.5],[2950,91],[2850,93],[2750,96],[2600,97],[2400,97.5],[2200,98],[2150,99],[2100,97.5],[2000,98.5],[1900,97.5],[1800,97],[1750,95],[1700,88],[1660,82],[1620,70],[1595,56],[1582,53],[1560,65],[1530,78],[1510,79],[1490,74],[1460,66],[1430,55],[1410,50],[1395,48],[1380,55],[1350,62],[1320,68],[1280,75],[1250,80],[1230,79],[1200,72],[1170,73],[1140,77],[1120,70],[1100,75],[1060,78],[1020,77],[980,80],[950,78],[920,81],[900,78],[870,80],[840,76],[789,73]];
el(pc,'path',{d:poly(purp.map(p=>[cx(p[0]),cy(p[1])])),fill:'none',stroke:'#8c8ce0','stroke-width':1.8,'stroke-linejoin':'round'});
el(pc,'path',{d:poly(gold.map(p=>[cx(p[0]),cy(p[1])])),fill:'none',stroke:'#c9a12a','stroke-width':2.6,'stroke-linejoin':'round'});

/* ---- panel d ---- */
const pd=document.getElementById('pd');
const D=[
['#18806f',[[45,853],[67,853],[80,850],[90,853],[100,851],[110,853],[120,848],[128,833],[139,818],[150,828],[158,847],[167,852],[180,850],[193,853],[207,845],[213,842],[220,844],[233,847],[245,842],[253,844],[263,848],[280,851],[294,853]]],
['#f0922e',[[45,887],[67,886],[83,886],[100,882],[110,877],[117,875],[128,884],[137,880],[147,863],[155,855],[163,863],[173,877],[183,886],[193,879],[207,878],[227,878],[243,873],[253,877],[262,887],[273,878],[282,877],[294,887]]],
['#8c9a32',[[45,923],[67,922],[83,920],[97,912],[108,903],[117,908],[127,917],[133,919],[140,913],[148,898],[157,903],[163,913],[172,908],[180,907],[188,917],[200,920],[217,923],[230,916],[240,912],[253,917],[263,923],[280,920],[294,922]]],
['#5a5ee0',[[45,950],[67,948],[78,944],[87,949],[97,945],[103,937],[110,924],[117,928],[123,945],[130,950],[140,948],[153,941],[163,945],[177,948],[192,951],[207,947],[227,948],[247,950],[267,948],[294,949]]],
['#b876e0',[[45,983],[67,982],[77,984],[87,980],[100,977],[110,972],[117,965],[122,960],[128,963],[135,973],[143,975],[160,977],[180,980],[193,983],[203,978],[217,980],[233,983],[267,982],[294,983]]]];
D.forEach(c=>el(pd,'path',{d:smooth(c[1]),fill:'none',stroke:c[0],'stroke-width':2}));

/* ---- panel g ---- */
const pg=document.getElementById('pg');
const gx=E=>340+(E-7700)*3.575, gy=I=>723-I*100.6;
const Gd=[
['#19807a',[[7690,0.01],[7700,0.01],[7706,0.03],[7708,0.12],[7711,0.3],[7715,0.4],[7720,0.65],[7725,0.85],[7728,0.93],[7732,0.96],[7735,0.99],[7740,0.97],[7745,0.96],[7750,0.98],[7758,1.06],[7763,1.03],[7770,0.93],[7775,0.9]]],
['#8a9b2c',[[7690,0.01],[7700,0.01],[7710,0.04],[7716,0.18],[7720,0.55],[7723,0.9],[7726,1.1],[7729.5,1.42],[7732,1.2],[7734,1.07],[7738,1.03],[7742,0.99],[7745,1.01],[7750,0.92],[7755,0.87],[7762,0.84],[7770,0.9],[7775,0.92]]],
['#5a68e0',[[7690,0.01],[7700,0.01],[7710,0.04],[7712,0.08],[7714,0.3],[7716,0.44],[7718,0.35],[7721,0.55],[7724,0.85],[7728,1.15],[7732,1.28],[7736,1.37],[7739,1.15],[7742,0.97],[7746,0.93],[7752,0.91],[7758,0.86],[7763,0.92],[7770,0.97],[7775,0.97]]],
['#f28c28',[[7690,0.01],[7700,0.01],[7710,0.04],[7713,0.07],[7716,0.18],[7720,0.6],[7723,1.2],[7726.5,1.6],[7729,1.3],[7732,0.95],[7736,0.83],[7740,0.93],[7744,1.0],[7748,0.9],[7752,0.83],[7757,0.86],[7762,0.92],[7768,1.05],[7770,1.1],[7775,1.12]]],
['#b070e8',[[7690,0.01],[7700,0.01],[7711,0.05],[7714,0.12],[7717,0.3],[7720,0.7],[7722,1.2],[7724,1.48],[7727,1.38],[7731,1.2],[7734,1.03],[7738,0.97],[7744,0.88],[7750,0.79],[7755,0.82],[7762,0.93],[7770,1.1],[7775,1.12]]]];
Gd.forEach(c=>el(pg,'path',{d:smooth(c[1].map(p=>[gx(p[0]),gy(p[1])])),fill:'none',stroke:c[0],'stroke-width':2}));

/* ---- panel h ---- */
const ph=document.getElementById('ph');
const hx=R=>342+R*30.9, hy=v=>978-v*9.08;
const meas=[[0,1.0],[0.5,1.2],[0.7,0.6],[0.8,0.5],[0.9,1.2],[1.0,2.3],[1.15,2.5],[1.3,3.5],[1.5,6],[1.65,11],[1.75,13],[1.85,12.5],[1.95,8],[2.05,5],[2.2,4.8],[2.4,4.5],[2.6,4.2],[2.8,2.5],[3.0,2.0],[3.2,2.4],[3.4,1.6],[3.6,2.2],[3.8,3.3],[3.95,3.2],[4.1,2.2],[4.5,1.5],[5,1.0],[5.5,0.8],[6,0.4],[7,0.3],[8,0.3]];
const fit=[[0,0.8],[0.7,1.2],[1.0,1.3],[1.1,0.8],[1.2,1.2],[1.4,4],[1.55,7.5],[1.65,12],[1.75,13.2],[1.85,13],[1.95,10],[2.05,7],[2.2,5.5],[2.4,5.3],[2.6,4],[2.8,2.5],[3.0,3.2],[3.2,3.6],[3.4,3.0],[3.6,2.4],[4,2.0],[4.5,1.7],[5,1.2],[6,0.7],[7,0.6],[8,0.5]];
function markers(data,col){const pts=data.map(p=>[hx(p[0]),hy(p[1])]);el(ph,'path',{d:poly(pts),fill:'none',stroke:col,'stroke-width':5,'stroke-linejoin':'round'});for(let R=0;R<=8;R+=0.05){const v=interp(data,R);el(ph,'rect',{x:f1(hx(R)-2.5),y:f1(hy(v)-2.5),width:5,height:5,fill:col});}}
markers(meas,'#707070');markers(fit,'#b07fe0');

/* molecule */
const mol=document.getElementById('mol');
const C=[[500,864],[542,864],[484,874],[558,874],[486,888],[556,888],[484,904],[558,904],[494,917],[548,917],[508,911],[534,911],[508,926],[534,926],[498,934],[544,934],[512,940],[530,940],[520,920],[520,934]];
const bonds=[[[520,884],[498,897]],[[520,884],[542,897]],[[520,884],[507,870]],[[520,884],[533,870]],[[507,870],[500,864]],[[533,870],[542,864]],[[500,864],[485,858]],[[542,864],[557,858]],[[485,858],[493,850]],[[557,858],[549,850]],[[500,864],[484,874]],[[542,864],[558,874]],[[484,874],[486,888]],[[558,874],[556,888]],[[486,888],[498,897]],[[556,888],[542,897]],[[486,888],[484,904]],[[556,888],[558,904]],[[484,904],[494,917]],[[558,904],[548,917]],[[494,917],[508,911]],[[548,917],[534,911]],[[508,911],[498,897]],[[534,911],[542,897]],[[508,911],[520,920]],[[534,911],[520,920]],[[494,917],[498,934]],[[548,917],[544,934]],[[498,934],[512,940]],[[544,934],[530,940]],[[512,940],[520,934]],[[530,940],[520,934]],[[520,934],[520,920]],[[508,926],[508,911]],[[534,926],[534,911]]];
bonds.forEach(b=>el(mol,'line',{x1:b[0][0],y1:b[0][1],x2:b[1][0],y2:b[1][1],stroke:'#8a8a8a','stroke-width':2.5}));
C.forEach(p=>el(mol,'circle',{cx:p[0],cy:p[1],r:3.6,fill:'#8e8e8e',stroke:'#666','stroke-width':0.5}));
[[498,897],[542,897]].forEach(p=>el(mol,'circle',{cx:p[0],cy:p[1],r:3.8,fill:'#9aa0e8'}));
[[507,870],[533,870],[485,858],[557,858]].forEach(p=>el(mol,'circle',{cx:p[0],cy:p[1],r:3.8,fill:'#a060c0'}));
[[493,850],[549,850]].forEach(p=>el(mol,'circle',{cx:p[0],cy:p[1],r:3.8,fill:'#e8a878'}));
el(mol,'circle',{cx:520,cy:884,r:5,fill:'#2a8a7a'});
})();
</script>
</body></html>
